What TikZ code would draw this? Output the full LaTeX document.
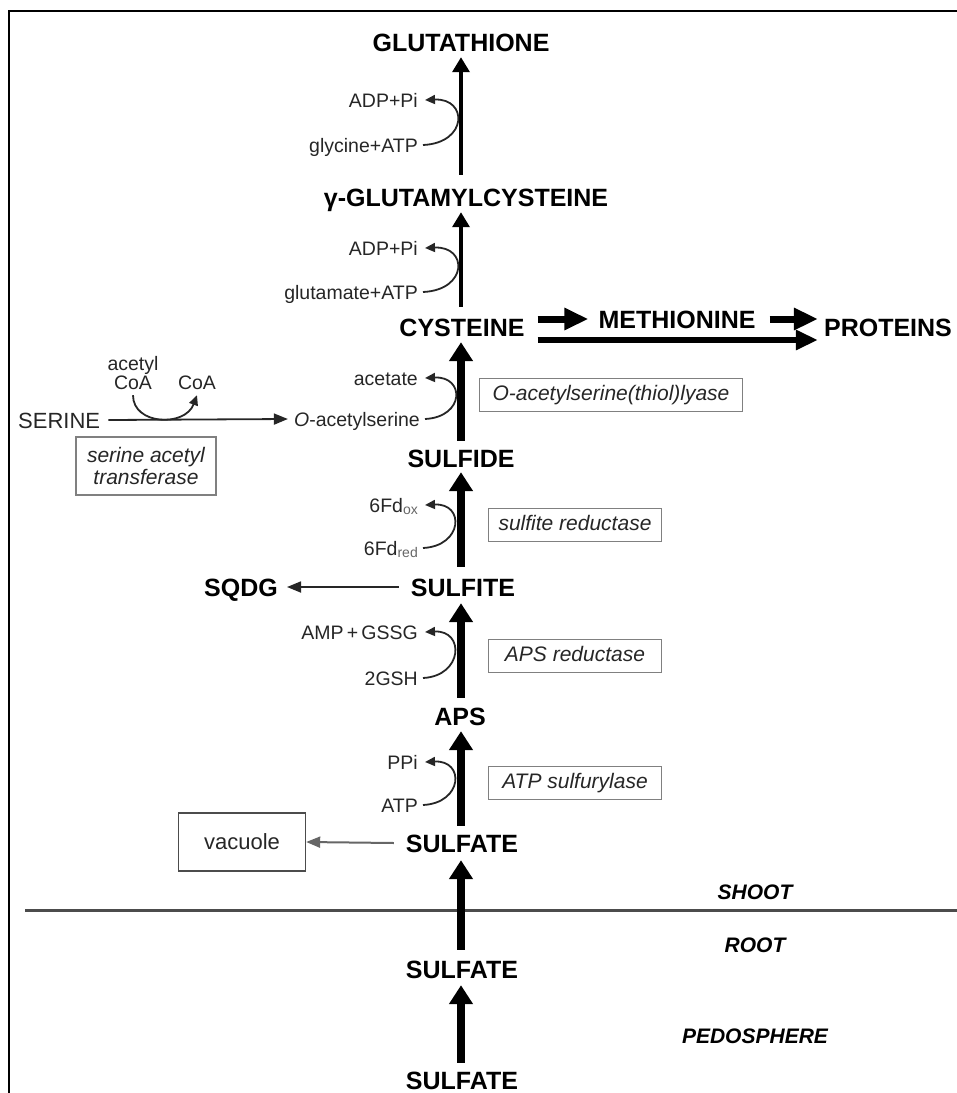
\documentclass[tikz,border=0pt]{standalone}
\usepackage{fontspec}
\setmainfont{Liberation Sans}
\usetikzlibrary{arrows.meta,calc}
\begin{document}
\begin{tikzpicture}[x=1pt,y=-1pt,
  lbl/.style={font=\fontsize{25}{25}\selectfont\bfseries, inner sep=0pt, text height=18pt, text depth=0pt},
  sm/.style={font=\fontsize{19.5}{20}\selectfont, text=black!85, inner sep=0pt, anchor=east, text height=14pt, text depth=0pt},
  smc/.style={font=\fontsize{19.5}{20}\selectfont, text=black!85, inner sep=0pt, text height=14pt, text depth=0pt},
  enz/.style={draw=black!50, line width=1.4pt, font=\fontsize{21}{24}\selectfont\itshape, text=black!85, inner sep=0pt, minimum height=33pt, text height=15pt, text depth=4pt},
  region/.style={font=\fontsize{21}{21}\selectfont\bfseries\itshape, inner sep=0pt, text height=15pt, text depth=0pt},
  thickar/.style={line width=8pt, -{Triangle[width=23pt,length=19pt]}},
  thinar/.style={line width=3.5pt, -{Triangle[width=17pt,length=15pt]}},
  harrow/.style={line width=7pt, -{Triangle[width=21pt,length=24pt]}},
  larrow/.style={line width=6pt, -{Triangle[width=19pt,length=22pt]}},
  side/.style={line width=1.8pt, draw=black!85, -{Triangle[width=9pt,length=10pt]}},
  hline/.style={line width=1.8pt, draw=black!85, -{Triangle[width=11pt,length=14pt]}},
]
\useasboundingbox (0,0) rectangle (957,1093);
% frame
\draw[line width=2pt] (9,1093) -- (9,11) -- (957,11);
% main column
\node[lbl] (glut) at (461,42) {GLUTATHIONE};
\node[lbl] (gglu) at (466,197) {γ-GLUTAMYLCYSTEINE};
\node[lbl] (cys) at (462,327) {CYSTEINE};
\node[lbl] (meth) at (677,319) {METHIONINE};
\node[lbl] (prot) at (888,327) {PROTEINS};
\node[lbl] (sulfide) at (461,458) {SULFIDE};
\node[lbl] (sulfite) at (463,587) {SULFITE};
\node[lbl] (sqdg) at (241,587) {SQDG};
\node[lbl] (aps) at (460,716) {APS};
\node[lbl] (sulfa) at (462,843) {SULFATE};
\node[lbl] (sulfb) at (462,969) {SULFATE};
\node[lbl] (sulfc) at (462,1080) {SULFATE};
% side labels
\node[sm] (adpa) at (418,100) {ADP+Pi};
\node[sm] (gly) at (418,145) {glycine+ATP};
\node[sm] (adpb) at (418,248) {ADP+Pi};
\node[sm] (glu) at (418,292) {glutamate+ATP};
\node[sm] (acet) at (418,378) {acetate};
\node[sm] (oas) at (420,419) {\textit{O}-acetylserine};
\node[sm] (fdox) at (418,505) {6Fd{\fontsize{14}{14}\selectfont\color{black!60}\raisebox{-2pt}{ox}}};
\node[sm] (fdred) at (418,548) {6Fd{\fontsize{14}{14}\selectfont\color{black!60}\raisebox{-2pt}{red}}};
\node[sm] (amp) at (418,632) {AMP\,+\,GSSG};
\node[sm] (gsh) at (418,678) {2GSH};
\node[sm] (ppi) at (418,762) {PPi};
\node[sm] (atp) at (418,805) {ATP};
% serine branch
\node[font=\fontsize{22}{22}\selectfont, text=black!85, inner sep=0pt, anchor=west, text height=16pt, text depth=0pt] (ser) at (18,420) {SERINE};
\node[smc] (acetyl) at (133,363) {acetyl};
\node[smc] (acoa) at (133,382) {CoA};
\node[smc] (coa) at (197,382) {CoA};
% enzyme boxes
\node[enz, minimum width=140pt, minimum height=58pt, align=center, text height=, text depth=, font=\fontsize{21}{22}\selectfont\itshape] (sat) at (146,466) {serine acetyl\\transferase};
\node[enz, minimum width=263pt] (oasl) at (611,395) {O-acetylserine(thiol)lyase};
\node[enz, minimum width=173pt] (sir) at (575,525) {sulfite reductase};
\node[enz, minimum width=173pt] (apsr) at (575,656) {APS reductase};
\node[enz, minimum width=173pt] (atps) at (575,783) {ATP sulfurylase};
\node[draw=black!70, line width=1.4pt, minimum width=127pt, minimum height=58pt, inner sep=0pt, font=\fontsize{22}{22}\selectfont, text=black!85] (vac) at (242,842) {vacuole};
% regions
\node[region] (shoot) at (755,892) {SHOOT};
\node[region] (root) at (755,945) {ROOT};
\node[region] (pedo) at (755,1036) {PEDOSPHERE};
\draw[line width=3pt, black!70] (25,910) -- (957,910);
% main arrows
\draw[thinar, shorten <=13pt, shorten >=6pt] (gglu.north -| glut.south) -- (glut.south);
\draw[thinar, shorten <=11pt, shorten >=6pt] (cys.north -| glut.south) -- (gglu.south -| glut.south);
\draw[thickar, shorten <=8pt, shorten >=6pt] (sulfide.north) -- (cys.south -| sulfide.north);
\draw[thickar, shorten <=11pt, shorten >=5pt] (sulfite.north -| sulfide.north) -- (sulfide.south);
\draw[thickar, shorten <=9pt, shorten >=7pt] (aps.north -| sulfide.north) -- (sulfite.south -| sulfide.north);
\draw[thickar, shorten <=8pt, shorten >=6pt] (sulfa.north -| sulfide.north) -- (aps.south -| sulfide.north);
\draw[thickar, shorten <=10pt, shorten >=8pt] (sulfb.north -| sulfide.north) -- (sulfa.south -| sulfide.north);
\draw[thickar, shorten <=8pt, shorten >=7pt] (sulfc.north -| sulfide.north) -- (sulfb.south -| sulfide.north);
% horizontal arrows
\draw[harrow] ([xshift=13pt,yshift=8pt]cys.east) -- ([xshift=-10pt]meth.west);
\draw[harrow] ([xshift=14pt]meth.east) -- ([xshift=-6pt,yshift=8pt]prot.west);
\draw[larrow] ([xshift=13pt,yshift=-13pt]cys.east) -- ([xshift=-6pt,yshift=-13pt]prot.west);
\draw[hline] ([xshift=-12pt]sulfite.west) -- ([xshift=9pt]sqdg.east);
\draw[hline, draw=black!60, line width=2pt] ([xshift=-12pt]sulfa.west) -- (vac.east);
\draw[hline] ([xshift=8pt]ser.east) -- ([xshift=-6pt]oas.west);
% side reactions
\draw[side] ([xshift=5pt]gly.east) .. controls +(45,-2) and +(43,-2) .. ([xshift=7pt]adpa.east);
\draw[side] ([xshift=5pt]glu.east) .. controls +(45,-2) and +(43,-2) .. ([xshift=7pt]adpb.east);
\draw[side] ([xshift=5pt]oas.east) .. controls +(40,-2) and +(40,-2) .. ([xshift=7pt]acet.east);
\draw[side] ([xshift=5pt]fdred.east) .. controls +(40,-2) and +(40,-2) .. ([xshift=7pt]fdox.east);
\draw[side] ([xshift=5pt]gsh.east) .. controls +(40,-2) and +(40,-2) .. ([xshift=7pt]amp.east);
\draw[side] ([xshift=5pt]atp.east) .. controls +(40,-2) and +(40,-2) .. ([xshift=7pt]ppi.east);
\draw[side] ([yshift=-6pt]acoa.south) .. controls +(0,30) and +(-12,32) .. ([yshift=-6pt]coa.south);
\end{tikzpicture}
\end{document}
